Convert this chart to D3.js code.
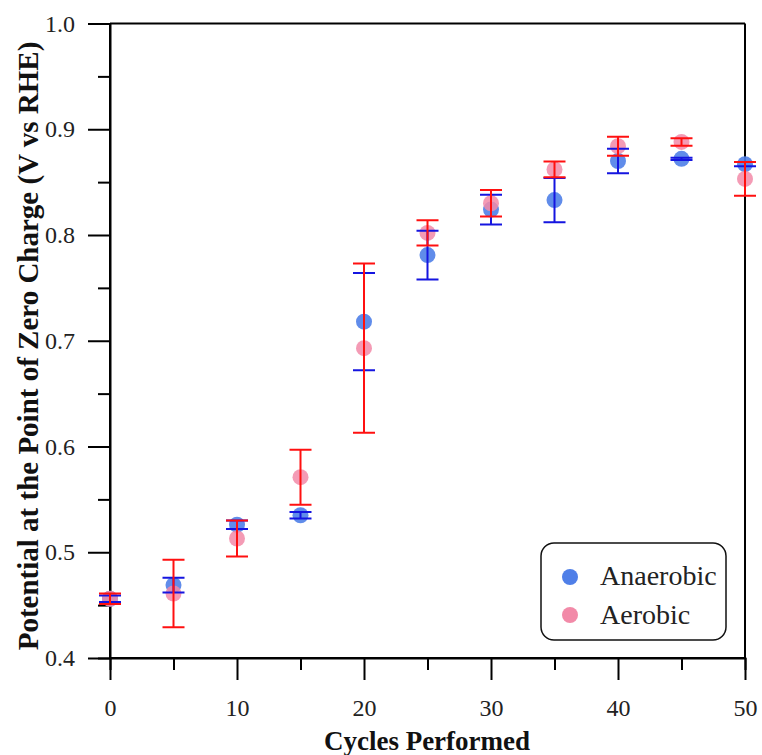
<!DOCTYPE html>
<html><head><meta charset="utf-8">
<script src="https://cdn.jsdelivr.net/npm/d3@7"></script>
<style>html,body{margin:0;padding:0;background:#fff;}svg{display:block;}</style>
</head><body>
<svg id="chart" width="762" height="755"></svg>
<script>
const cycles = [0, 5, 10, 15, 20, 25, 30, 35, 40, 45, 50];
const anaerobic = [0.456, 0.469, 0.526, 0.535, 0.718, 0.781, 0.824, 0.833, 0.870, 0.872, 0.867];
const anaerobicErr = [0.003, 0.007, 0.004, 0.003, 0.046, 0.023, 0.014, 0.021, 0.0115, 0.001, 0.002];
const aerobic = [0.456, 0.461, 0.513, 0.571, 0.693, 0.802, 0.830, 0.862, 0.884, 0.888, 0.853];
const aerobicErr = [0.005, 0.032, 0.017, 0.026, 0.080, 0.012, 0.0125, 0.0075, 0.009, 0.0035, 0.016];
const xTicks = [0, 10, 20, 30, 40, 50];
const xMinor = [5, 15, 25, 35, 45];
const yTicks = [0.4, 0.5, 0.6, 0.7, 0.8, 0.9, 1.0];
const yMinor = [0.45, 0.55, 0.65, 0.75, 0.85, 0.95];
const seriesNames = ["Anaerobic", "Aerobic"];

const svg = d3.select("#chart");
const L = 110, R = 745, T = 23.5, B = 658;
const x = d3.scaleLinear().domain([0, 50]).range([L, R]);
const y = d3.scaleLinear().domain([0.4, 1.0]).range([B, T]);
const serif = "Liberation Serif, DejaVu Serif, serif";

// frame (top, right)
svg.append("line").attr("x1", L).attr("x2", R).attr("y1", T).attr("y2", T).attr("stroke", "#000").attr("stroke-width", 2);
svg.append("line").attr("x1", R).attr("x2", R).attr("y1", T).attr("y2", B).attr("stroke", "#000").attr("stroke-width", 2);

// axes
const xAxis = d3.axisBottom(x).tickValues(xTicks).tickFormat(d3.format("d")).tickSize(22).tickPadding(19);
const gx = svg.append("g").attr("transform", `translate(0,${B})`).call(xAxis);
const xAxisMinor = d3.axisBottom(x).tickValues(xMinor).tickFormat("").tickSize(12);
const gxm = svg.append("g").attr("transform", `translate(0,${B})`).call(xAxisMinor);
const yAxis = d3.axisLeft(y).tickValues(yTicks).tickFormat(d3.format(".1f")).tickSize(22).tickPadding(13);
const gy = svg.append("g").attr("transform", `translate(${L},0)`).call(yAxis);
const yAxisMinor = d3.axisLeft(y).tickValues(yMinor).tickFormat("").tickSize(12);
const gym = svg.append("g").attr("transform", `translate(${L},0)`).call(yAxisMinor);
[gx, gxm, gy, gym].forEach(g => {
  g.attr("font-family", serif).attr("font-size", 24);
  g.select(".domain").attr("stroke", "#000").attr("stroke-width", 2);
  g.selectAll(".tick line").attr("stroke", "#000").attr("stroke-width", 2);
  g.selectAll("text").style("font-family", serif).style("font-size", "24px").attr("fill", "#222");
});
gx.select(".domain").attr("d", `M${L},0H${R}`);
gy.select(".domain").attr("d", `M0,${B}V${T}`);

// axis titles
svg.append("text").attr("x", 427).attr("y", 750).attr("text-anchor", "middle")
  .style("font-family", serif).attr("font-weight", "bold").style("font-size", "27px").attr("fill", "#111")
  .text("Cycles Performed");
svg.append("text").attr("transform", `translate(38,346) rotate(-90)`).attr("text-anchor", "middle")
  .style("font-family", serif).attr("font-weight", "bold").style("font-size", "29px").attr("fill", "#111")
  .text("Potential at the Point of Zero Charge (V vs RHE)");

// points
const dataA = cycles.map((c, i) => ({c, v: anaerobic[i], e: anaerobicErr[i]}));
const dataB = cycles.map((c, i) => ({c, v: aerobic[i], e: aerobicErr[i]}));
const blue = "#4f7fe8", pink = "#f28aa8";
const capW = 11;

svg.append("g").selectAll("circle").data(dataA).join("circle")
  .attr("cx", d => x(d.c)).attr("cy", d => y(d.v)).attr("r", 8).attr("fill", blue).attr("opacity", 0.9);
svg.append("g").selectAll("circle").data(dataB).join("circle")
  .attr("cx", d => x(d.c)).attr("cy", d => y(d.v)).attr("r", 8).attr("fill", pink).attr("opacity", 0.85);

function errBars(data, color) {
  const g = svg.append("g").attr("stroke", color).attr("stroke-width", 2).attr("fill", "none");
  g.selectAll("path").data(data).join("path")
    .attr("d", d => {
      const cx = x(d.c), y1 = y(d.v + d.e), y2 = y(d.v - d.e);
      return `M${cx - capW},${y1}H${cx + capW}M${cx},${y1}V${y2}M${cx - capW},${y2}H${cx + capW}`;
    });
}
errBars(dataA, "#1515e0");
errBars(dataB, "#ff1010");

// legend
const lg = svg.append("g");
lg.append("rect").attr("x", 541).attr("y", 543).attr("width", 185).attr("height", 97).attr("rx", 13)
  .attr("fill", "#fff").attr("stroke", "#111").attr("stroke-width", 1.5);
[blue, pink].forEach((col, i) => {
  lg.append("circle").attr("cx", 570).attr("cy", 577 + i * 38).attr("r", 8).attr("fill", col);
  lg.append("text").attr("x", 600).attr("y", 585 + i * 39).style("font-family", serif).style("font-size", "28px")
    .attr("fill", "#222").text(seriesNames[i]);
});
</script>
</body></html>
